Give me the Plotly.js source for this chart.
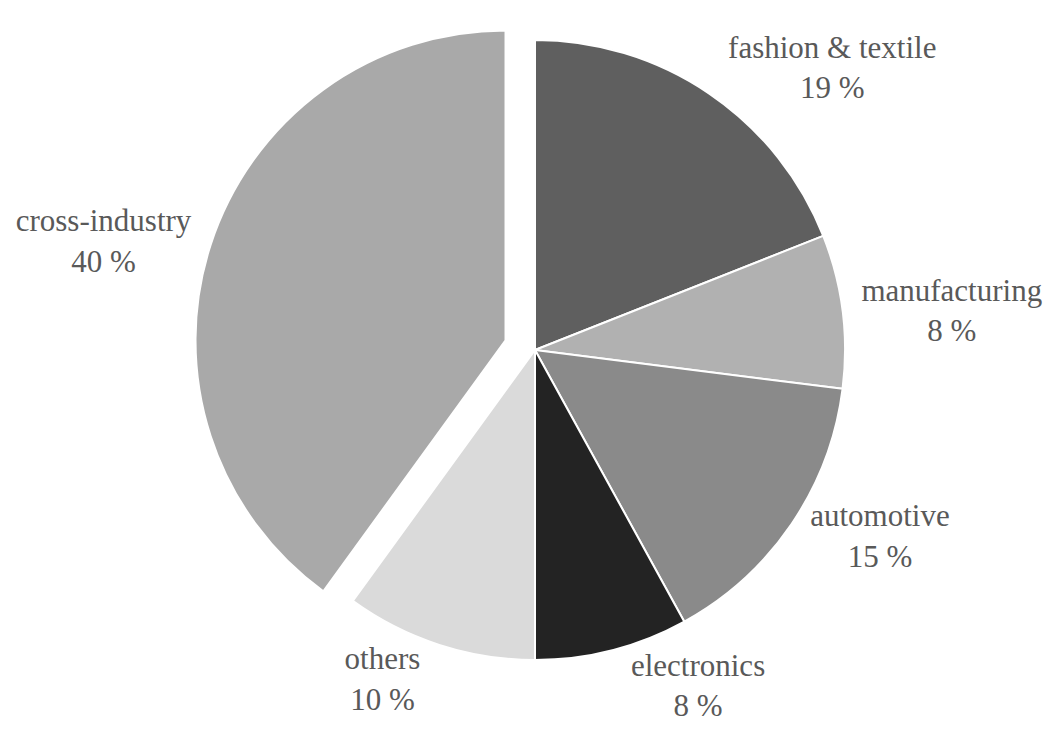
<!DOCTYPE html>
<html><head><meta charset="utf-8">
<script src="https://cdn.plot.ly/plotly-3.0.1.min.js"></script>
<style>html,body{margin:0;padding:0;background:#fff}</style>
</head><body>
<div id="chart" style="width:1051px;height:729px"></div>
<script>
const categories = ["fashion & textile", "manufacturing", "automotive", "electronics", "others", "cross-industry"];
const shares = [19, 8, 15, 8, 10, 40];
const sliceColors = ["#5f5f5f", "#b1b1b1", "#8a8a8a", "#232323", "#dadada", "#a9a9a9"];
const pulls = [0, 0, 0, 0, 0, 0.1];
const labelText = categories.map((c, i) => c + "<br>" + shares[i] + " %");
const serif = "Liberation Serif";

Plotly.newPlot("chart", [{
  type: "pie",
  labels: categories,
  values: shares,
  sort: false,
  direction: "clockwise",
  rotation: 0,
  pull: pulls,
  text: labelText,
  textinfo: "text",
  textposition: "outside",
  textfont: {family: serif, size: 31, color: "#595959"},
  marker: {colors: sliceColors, line: {color: "#ffffff", width: 2}},
  hoverinfo: "none",
  automargin: false
}], {
  width: 1051, height: 729,
  margin: {l: 20, r: 1, t: 9, b: 38},
  showlegend: false,
  paper_bgcolor: "#ffffff",
  font: {family: serif, color: "#595959"}
}, {displayModeBar: false, staticPlot: true});
</script>
</body></html>
